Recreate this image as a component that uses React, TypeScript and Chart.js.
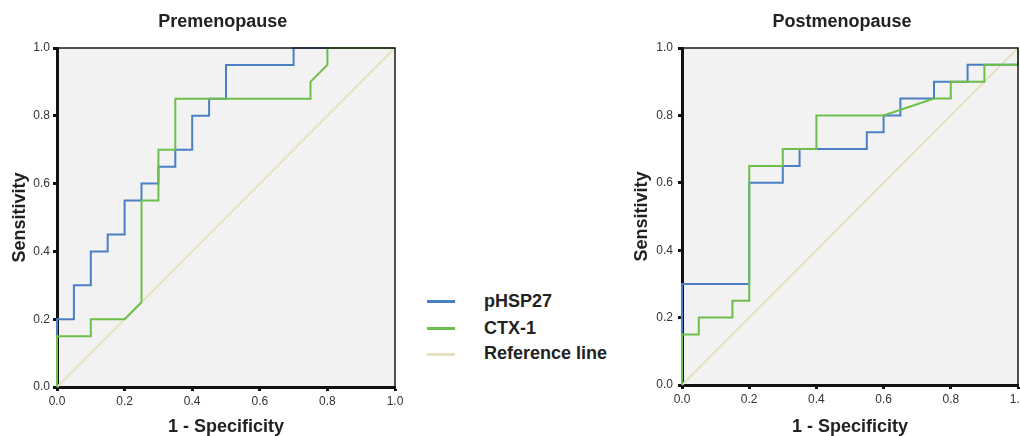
import React, { useEffect, useRef } from 'react';
import { Chart, registerables } from 'chart.js';

Chart.register(...registerables);

// ---------- data ----------
const chartTitles = ['Premenopause', 'Postmenopause'];
const xAxisTitle = '1 - Specificity';
const yAxisTitle = 'Sensitivity';
const seriesNames = ['pHSP27', 'CTX-1', 'Reference line'];
const seriesColors = ['#4a7fc6', '#6cc04a', '#e8e2c2'];
const tickValues = [0, 0.2, 0.4, 0.6, 0.8, 1.0];

const referenceX = [0, 1];
const referenceY = [0, 1];

// Premenopause
const preX_pHSP27 = [0, 0, 0.05, 0.05, 0.1, 0.1, 0.15, 0.15, 0.2, 0.2, 0.25, 0.25, 0.3, 0.3, 0.35, 0.35, 0.4, 0.4, 0.45, 0.45, 0.5, 0.5, 0.7, 0.7, 1];
const preY_pHSP27 = [0, 0.2, 0.2, 0.3, 0.3, 0.4, 0.4, 0.45, 0.45, 0.55, 0.55, 0.6, 0.6, 0.65, 0.65, 0.7, 0.7, 0.8, 0.8, 0.85, 0.85, 0.95, 0.95, 1, 1];
const preX_CTX1 = [0, 0, 0.1, 0.1, 0.2, 0.25, 0.25, 0.3, 0.3, 0.35, 0.35, 0.75, 0.75, 0.8, 0.8, 1];
const preY_CTX1 = [0, 0.15, 0.15, 0.2, 0.2, 0.25, 0.55, 0.55, 0.7, 0.7, 0.85, 0.85, 0.9, 0.95, 1, 1];

// Postmenopause
const postX_pHSP27 = [0, 0, 0.2, 0.2, 0.3, 0.3, 0.35, 0.35, 0.55, 0.55, 0.6, 0.6, 0.65, 0.65, 0.75, 0.75, 0.85, 0.85, 1, 1];
const postY_pHSP27 = [0, 0.3, 0.3, 0.6, 0.6, 0.65, 0.65, 0.7, 0.7, 0.75, 0.75, 0.8, 0.8, 0.85, 0.85, 0.9, 0.9, 0.95, 0.95, 1];
const postX_CTX1 = [0, 0, 0.05, 0.05, 0.15, 0.15, 0.2, 0.2, 0.3, 0.3, 0.4, 0.4, 0.6, 0.75, 0.8, 0.8, 0.9, 0.9, 1, 1];
const postY_CTX1 = [0, 0.15, 0.15, 0.2, 0.2, 0.25, 0.25, 0.65, 0.65, 0.7, 0.7, 0.8, 0.8, 0.85, 0.85, 0.9, 0.9, 0.95, 0.95, 1];

// ---------- helpers ----------
const FONT = '"Liberation Sans", Arial, sans-serif';
const pts = (xs: number[], ys: number[]) => xs.map((x, i) => ({ x, y: ys[i] }));

const framePlugin = {
  id: 'frame',
  beforeDraw(chart: any) {
    const { ctx, chartArea } = chart;
    const { left, top, right, bottom } = chartArea;
    ctx.save();
    ctx.fillStyle = '#f2f2f2';
    ctx.fillRect(left, top, right - left, bottom - top);
    ctx.restore();
  },
  afterDatasetsDraw(chart: any) {
    const { ctx, chartArea } = chart;
    const { left, top, right, bottom } = chartArea;
    ctx.save();
    ctx.strokeStyle = '#1a1a1a';
    ctx.lineWidth = 1.5;
    ctx.beginPath();
    ctx.moveTo(left, top);
    ctx.lineTo(right, top);
    ctx.lineTo(right, bottom);
    ctx.stroke();
    ctx.restore();
  },
};

type PanelProps = {
  left: number;
  width: number;
  yWidth: number;
  padRight: number;
  xHeight: number;
  yTitlePad: number;
  tickPadY: number;
  bx: number[];
  by: number[];
  gx: number[];
  gy: number[];
};

function makeScale(isX: boolean, p: PanelProps) {
  return {
    type: 'linear',
    min: 0,
    max: 1,
    afterBuildTicks: (axis: any) => {
      axis.ticks = tickValues.map((v) => ({ value: v }));
    },
    afterFit: (axis: any) => {
      if (isX) {
        axis.height = p.xHeight;
        axis.paddingLeft = 0;
        axis.paddingRight = 0;
      } else {
        axis.width = p.yWidth;
        axis.paddingTop = 0;
        axis.paddingBottom = 0;
      }
    },
    ticks: {
      autoSkip: false,
      maxRotation: 0,
      minRotation: 0,
      padding: isX ? 3 : p.tickPadY,
      color: '#333',
      font: { family: FONT, size: 12 },
      callback: (v: any) => Number(v).toFixed(1),
    },
    grid: {
      drawOnChartArea: false,
      drawTicks: true,
      tickLength: 4,
      tickWidth: 3,
      tickColor: '#111',
      color: '#111',
    },
    border: { display: true, color: '#111', width: 3 },
    title: {
      display: true,
      text: isX ? xAxisTitle : yAxisTitle,
      color: '#222',
      font: { family: FONT, size: 18, weight: 'bold', lineHeight: 1 },
      padding: isX ? { top: 0, bottom: 0 } : { top: p.yTitlePad, bottom: 0 },
    },
  };
}

function RocPanel(p: PanelProps) {
  const ref = useRef<HTMLCanvasElement | null>(null);
  useEffect(() => {
    if (!ref.current) return;
    const base = {
      showLine: true,
      borderWidth: 2,
      pointRadius: 0,
      pointHoverRadius: 0,
      tension: 0,
      clip: false,
    };
    const chart = new Chart(ref.current, {
      type: 'scatter',
      data: {
        datasets: [
          { ...base, label: seriesNames[0], data: pts(p.bx, p.by), borderColor: seriesColors[0], backgroundColor: seriesColors[0], order: 1 },
          { ...base, label: seriesNames[1], data: pts(p.gx, p.gy), borderColor: seriesColors[1], backgroundColor: seriesColors[1], order: 0 },
          { ...base, label: seriesNames[2], data: pts(referenceX, referenceY), borderColor: seriesColors[2], backgroundColor: seriesColors[2], order: 2 },
        ],
      },
      options: {
        animation: false,
        responsive: false,
        devicePixelRatio: 1,
        events: [],
        layout: { padding: { left: 0, right: p.padRight, top: 48, bottom: 0 }, autoPadding: false },
        plugins: {
          legend: { display: false },
          tooltip: { enabled: false },
          title: { display: false },
        },
        scales: {
          x: makeScale(true, p),
          y: makeScale(false, p),
        },
      } as any,
      plugins: [framePlugin],
    } as any);
    return () => chart.destroy();
  }, []);
  return (
    <div style={{ position: 'absolute', left: p.left, top: 0, width: p.width, height: 436 }}>
      <canvas ref={ref} width={p.width} height={436} style={{ width: p.width, height: 436, display: 'block' }} />
    </div>
  );
}

const titleStyle = (center: number): React.CSSProperties => ({
  position: 'absolute',
  left: center - 150,
  width: 300,
  top: 12,
  textAlign: 'center',
  fontFamily: FONT,
  fontWeight: 'bold',
  fontSize: 18,
  lineHeight: '18px',
  color: '#222',
});

const legendLineYs = [301.7, 328.3, 354.3];
const legendTextYs = [301, 327.6, 352.5];

export default function App() {
  return (
    <div style={{ position: 'absolute', left: 0, top: 0, width: 1020, height: 436, overflow: 'hidden', background: '#fff' }}>
      <RocPanel left={0} width={410} yWidth={57} padRight={15} xHeight={49} yTitlePad={11} tickPadY={3}
        bx={preX_pHSP27} by={preY_pHSP27} gx={preX_CTX1} gy={preY_CTX1} />
      <RocPanel left={620} width={400} yWidth={62} padRight={2} xHeight={51} yTitlePad={13} tickPadY={5}
        bx={postX_pHSP27} by={postY_pHSP27} gx={postX_CTX1} gy={postY_CTX1} />
      <div style={titleStyle(222.7)}>{chartTitles[0]}</div>
      <div style={titleStyle(842)}>{chartTitles[1]}</div>
      {seriesNames.map((name, i) => (
        <React.Fragment key={name}>
          <div style={{ position: 'absolute', left: 427, top: legendLineYs[i] - 1.5, width: 28, height: 3, background: seriesColors[i] }} />
          <div style={{ position: 'absolute', left: 484, top: legendTextYs[i] - 8.8, fontFamily: FONT, fontWeight: 'bold', fontSize: 18, lineHeight: '18px', color: '#222', whiteSpace: 'nowrap' }}>{name}</div>
        </React.Fragment>
      ))}
    </div>
  );
}
